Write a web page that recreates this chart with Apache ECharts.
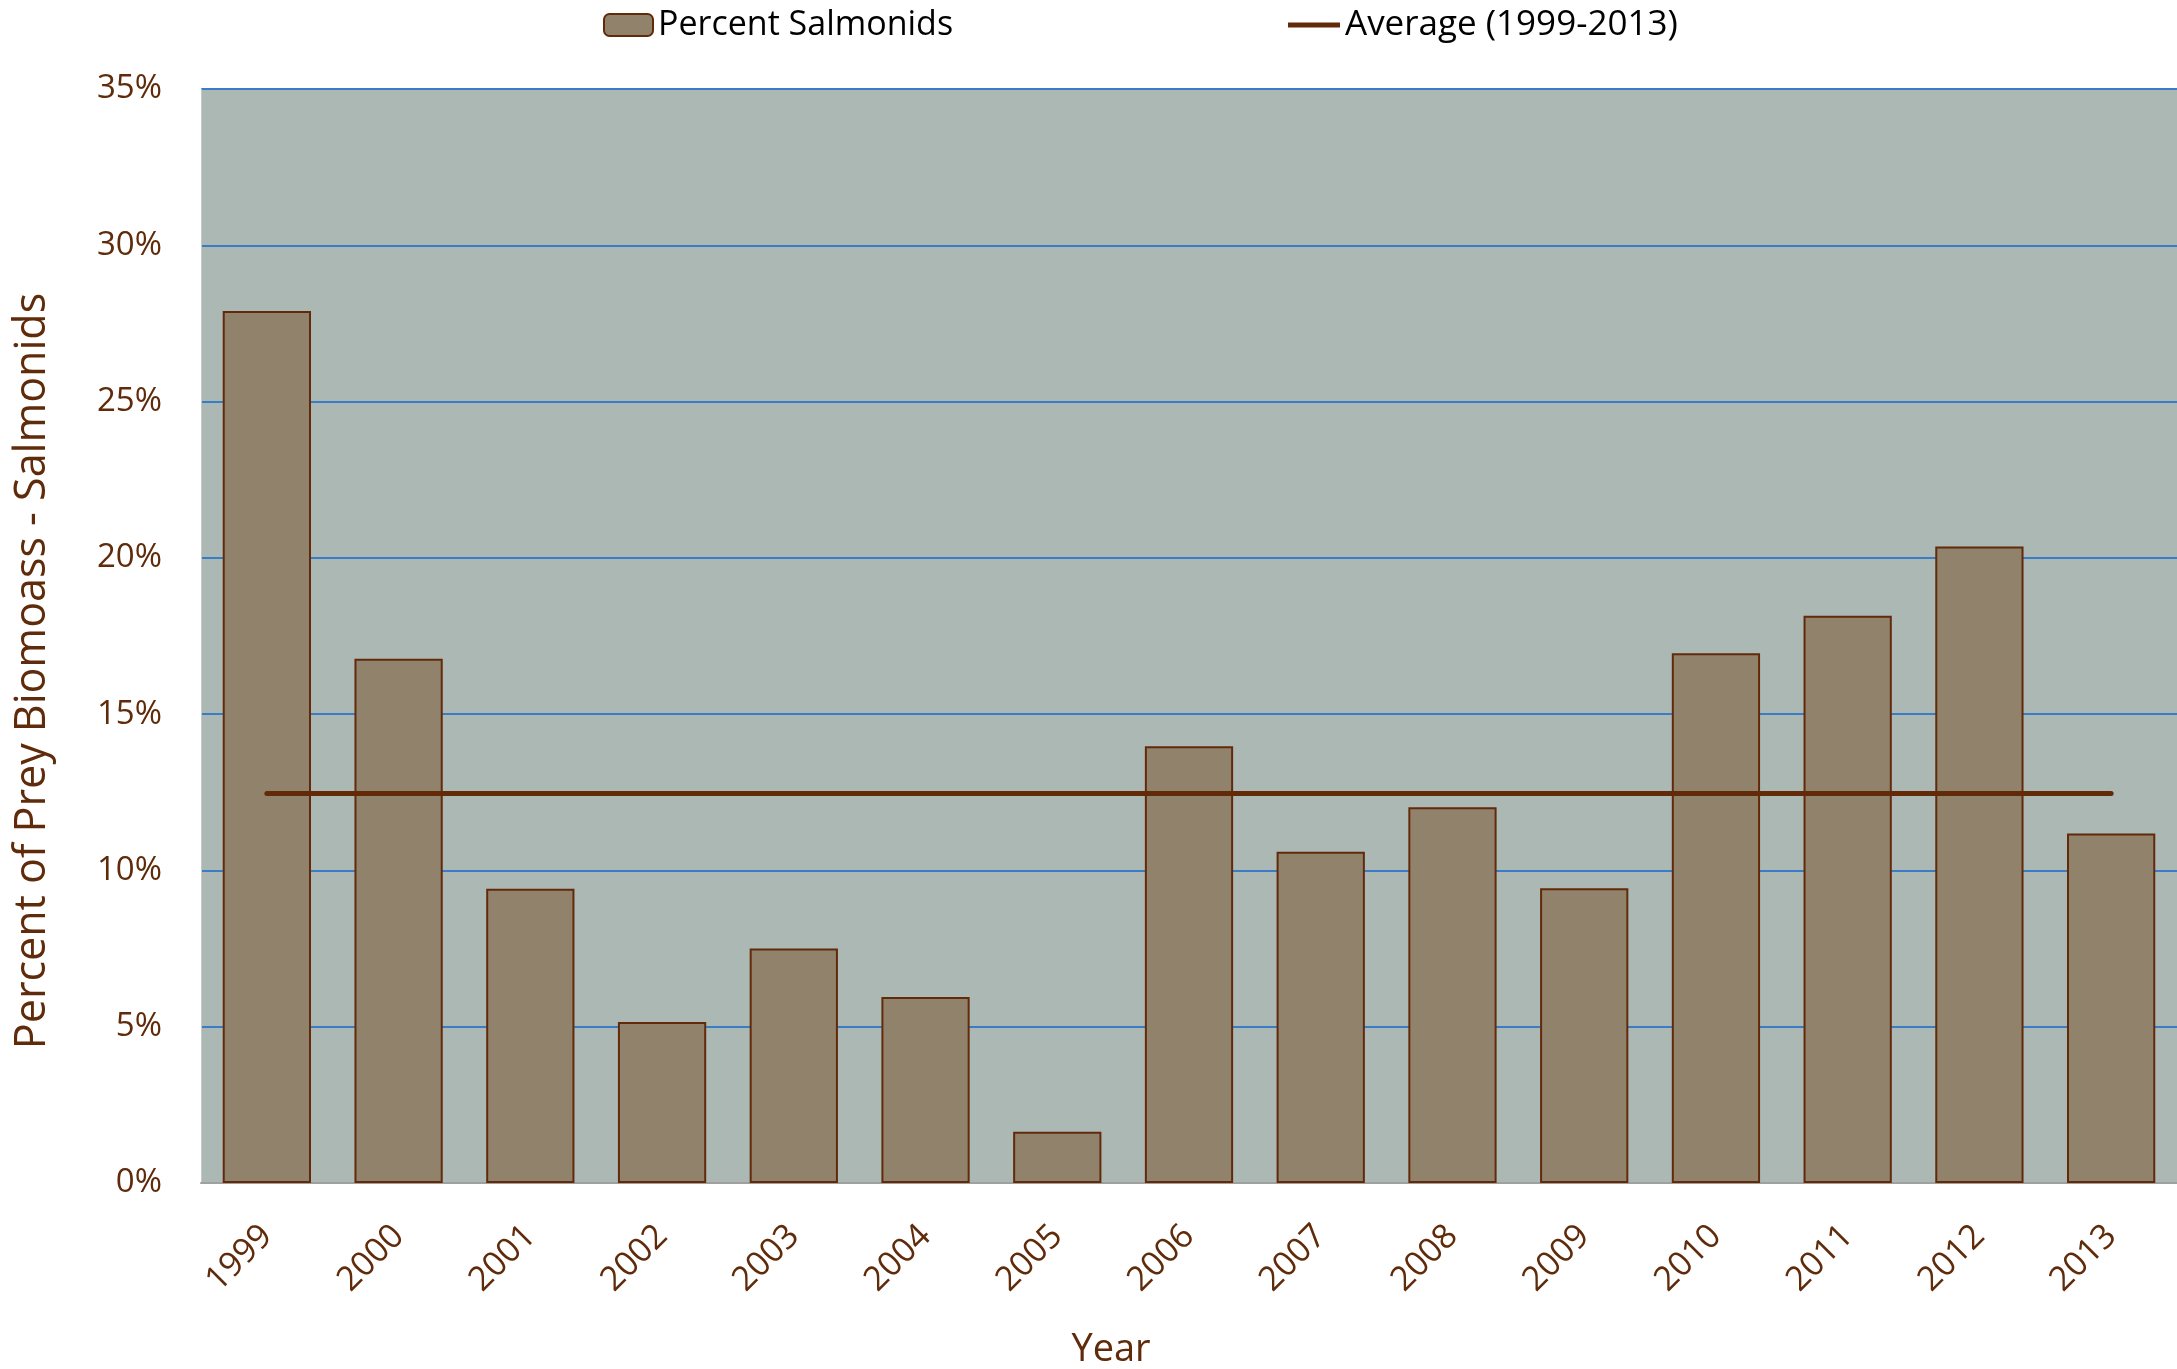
<!DOCTYPE html>
<html>
<head>
<meta charset="utf-8">
<script src="https://cdn.jsdelivr.net/npm/echarts@6/dist/echarts.min.js"></script>
<style>
html,body{margin:0;padding:0;background:#fff;}
#chart{width:2177px;height:1369px;}
</style>
</head>
<body>
<div id="chart"></div>
<script>
const years = ['1999','2000','2001','2002','2003','2004','2005','2006','2007','2008','2009','2010','2011','2012','2013'];
const percentSalmonids = [27.9, 16.77, 9.41, 5.15, 7.5, 5.95, 1.64, 13.97, 10.6, 12.02, 9.43, 16.95, 18.15, 20.36, 11.18];
const average = [12.46, 12.46, 12.46, 12.46, 12.46, 12.46, 12.46, 12.46, 12.46, 12.46, 12.46, 12.46, 12.46, 12.46, 12.46];
const yTicks = [0, 5, 10, 15, 20, 25, 30, 35];

const brown = '#5F2B0A';
const font = "'Open Sans', 'Noto Sans', sans-serif";

const chart = echarts.init(document.getElementById('chart'), null, {renderer: 'canvas'});
chart.setOption({
  animation: false,
  backgroundColor: '#ffffff',
  legend: [
    {
      left: 603, top: 5, padding: 0,
      itemWidth: 49, itemHeight: 22,
      data: ['Percent Salmonids'],
      textStyle: {color: '#000', fontFamily: font, fontSize: 34, lineHeight: 40}
    },
    {
      left: 1288, top: 5, padding: 0,
      itemWidth: 52, itemHeight: 5,
      data: [{name: 'Average (1999-2013)', icon: 'rect'}],
      itemStyle: {color: '#632A0A', borderWidth: 0},
      textStyle: {color: '#000', fontFamily: font, fontSize: 35, lineHeight: 40}
    }
  ],
  grid: {
    left: 201, right: 0, top: 89, bottom: 186,
    containLabel: false,
    outerBoundsMode: 'none',
    show: true, backgroundColor: '#ABB8B3', borderWidth: 0
  },
  xAxis: {
    type: 'category',
    data: years,
    name: 'Year',
    nameLocation: 'middle',
    nameGap: 148,
    nameTextStyle: {color: brown, fontFamily: font, fontSize: 38, padding: [0, 156, 0, 0]},
    axisLine: {show: true, lineStyle: {color: '#A0A0A0', width: 2}},
    axisTick: {show: false},
    axisLabel: {rotate: 45, margin: 48, color: brown, fontFamily: font, fontSize: 34}
  },
  yAxis: {
    type: 'value',
    min: yTicks[0], max: yTicks[yTicks.length - 1], interval: 5,
    name: 'Percent of Prey Biomoass - Salmonids',
    nameLocation: 'middle',
    nameGap: 147,
    nameRotate: 90,
    nameTextStyle: {color: brown, fontFamily: font, fontSize: 43, padding: [0, 70, 0, 0]},
    axisLine: {show: true, lineStyle: {color: '#C4CBC8', width: 1}},
    axisTick: {show: false},
    axisLabel: {margin: 39, color: brown, fontFamily: font, fontSize: 33, formatter: '{value}%'},
    splitLine: {show: true, lineStyle: {color: '#3B7CC6', width: 2}}
  },
  series: [
    {
      name: 'Percent Salmonids',
      type: 'bar',
      data: percentSalmonids,
      barCategoryGap: '33%',
      itemStyle: {color: '#91826C', borderColor: '#632A0A', borderWidth: 2},
      z: 2
    },
    {
      name: 'Average (1999-2013)',
      type: 'line',
      data: average,
      symbol: 'none',
      lineStyle: {color: '#632A0A', width: 5, cap: 'round'},
      itemStyle: {color: '#632A0A'},
      z: 3
    }
  ]
});
</script>
</body>
</html>
